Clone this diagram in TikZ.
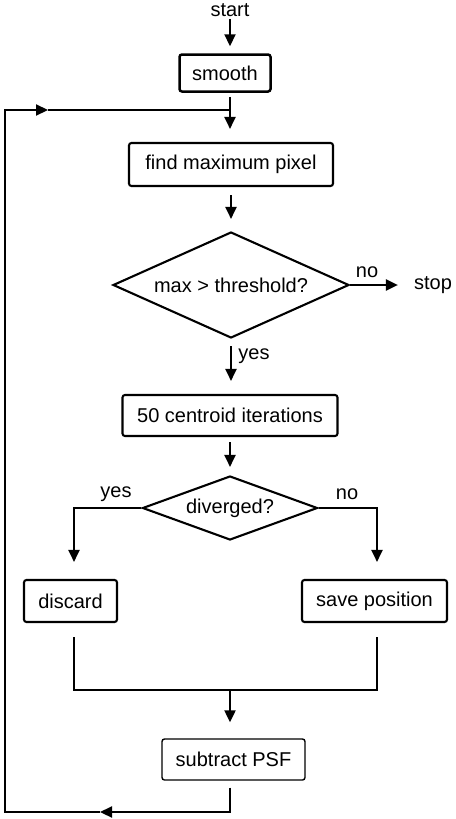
\documentclass[tikz,border=0pt]{standalone}
\usepackage{fontspec}
\setmainfont{Liberation Sans}
\usetikzlibrary{arrows.meta,shapes.geometric,calc}
\begin{document}
\begin{tikzpicture}[x=1pt,y=-1pt,
  every node/.style={font=\fontsize{20}{24}\selectfont, inner sep=0pt},
  proc/.style={draw, line width=2.1pt, rounded corners=2.5pt, minimum width=#1},
  dia/.style={draw, diamond, line width=2.1pt, aspect=2.2},
  ln/.style={line width=2.2pt},
  arr/.style={ln, -{Triangle[length=12pt,width=11pt]}}
]
\useasboundingbox (0,0) rectangle (455,819);

% nodes
\node (start) at (230,10) {start};
\node[proc=91pt, minimum height=37pt, line width=2.5pt] (smooth) at (225,73) {smooth};
\node[proc=204pt, minimum height=43pt] (find) at (231,164.5) {find maximum pixel};
\node[dia, minimum width=236pt, minimum height=106pt] (d1) at (231,285) {max > threshold?};
\node (stop) at (433,285) {stop};
\node[proc=215pt, minimum height=41pt] (cent) at (230,415.5) {50 centroid iterations};
\node[dia, minimum width=175pt, minimum height=64pt] (d2) at (230,508) {diverged?};
\node[proc=93pt, minimum height=42pt] (discard) at (70.5,601) {discard};
\node[proc=145pt, minimum height=42pt] (save) at (374.5,601) {save position};
\node[proc=143pt, minimum height=41pt, line width=1.4pt] (sub) at (233.5,759.5) {subtract PSF};

% labels
\node (lno1) at (367,272) {no};
\node (lyes1) at (254,356) {yes};
\node (lyes2) at (116,494) {yes};
\node (lno2) at (347,494) {no};

% coordinates
\coordinate (j1) at (230,110);
\coordinate (m2) at (48,110);
\coordinate (c1) at (5,812);
\coordinate (m1) at (100,812);
\coordinate (j2) at (230,812);
\coordinate (m3) at (230,690);

% connectors
\draw[arr, shorten <=2pt, shorten >=7pt] (start.south) -- (start.south |- smooth.north);
\draw[ln] ($(smooth.south -| j1)+(0,4)$) -- (j1);
\draw[arr, shorten >=13pt] (j1) -- (j1 |- find.north);
\draw[arr, shorten <=8pt, shorten >=12pt] (find.south -| d1.north) -- (d1.north);
\draw[arr, shorten >=16pt] (d1.east) -- (d1.east -| stop.west);
\draw[arr, shorten <=7pt, shorten >=13pt] (d1.south) -- (d1.south |- cent.north);
\draw[arr, shorten <=5pt, shorten >=8pt] (cent.south -| d2.north) -- (d2.north);
\draw[arr, shorten >=17pt] (d2.west) -| ($(discard.north)+(3.5,0)$);
\draw[arr, shorten >=17pt] (d2.east) -| ($(save.north)+(2.5,0)$);
\draw[ln] ($(discard.south)+(3.5,14)$) |- (m3) -| ($(save.south)+(2.5,14)$);
\draw[arr, shorten >=16pt] (m3) -- (m3 |- sub.north);
\draw[arr] ($(sub.south -| j2)+(0,7)$) |- (m1);
\draw[arr] (m1) -- (c1) |- (m2);
\draw[ln] (m2) -- (j1);
\end{tikzpicture}
\end{document}
